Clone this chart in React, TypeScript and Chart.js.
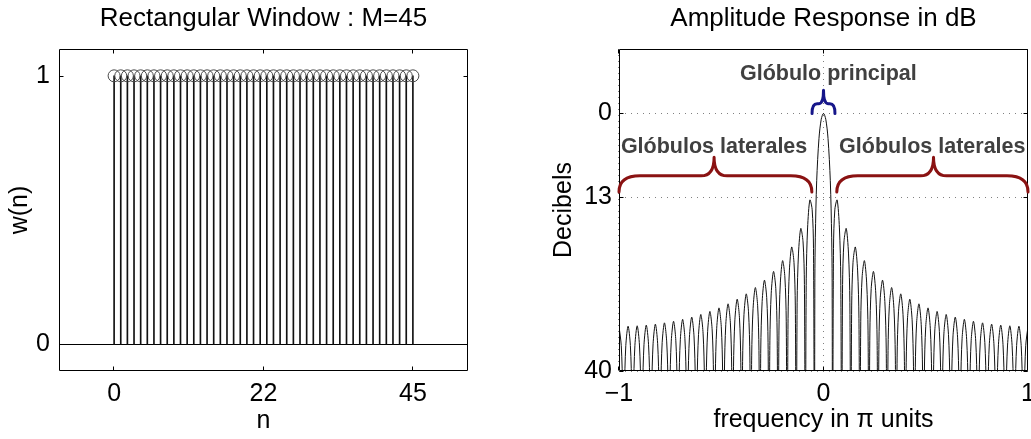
import React, { useEffect, useRef } from 'react';
import { Chart, registerables } from 'chart.js';

Chart.register(...registerables);

// ---------------- Left panel: rectangular window ----------------
const stemN = [
  0, 1, 2, 3, 4, 5, 6, 7, 8, 9, 10, 11, 12, 13, 14, 15, 16, 17, 18, 19, 20, 21, 22,
  23, 24, 25, 26, 27, 28, 29, 30, 31, 32, 33, 34, 35, 36, 37, 38, 39, 40, 41, 42, 43, 44, 45,
];
const stemW = [
  1, 1, 1, 1, 1, 1, 1, 1, 1, 1, 1, 1, 1, 1, 1, 1, 1, 1, 1, 1, 1, 1, 1,
  1, 1, 1, 1, 1, 1, 1, 1, 1, 1, 1, 1, 1, 1, 1, 1, 1, 1, 1, 1, 1, 1, 1,
];
const stemXTickValues = [0, 22.5, 45];
const stemXTickLabels = ['0', '22', '45'];
const stemYTickValues = [0, 1];
const stemYTickLabels = ['0', '1'];

// ---------------- Right panel: amplitude response (dB) ----------------
// frequency in pi units, negative half (ascending)
const freqNeg = [
  -1.0, -0.9889, -0.9822,
  -0.9778, -0.9733, -0.9667, -0.9556, -0.9444, -0.9378,
  -0.9333, -0.9289, -0.9222, -0.9111, -0.9, -0.8933,
  -0.8889, -0.8844, -0.8778, -0.8667, -0.8556, -0.8489,
  -0.8444, -0.84, -0.8333, -0.8222, -0.8111, -0.8044,
  -0.8, -0.7956, -0.7889, -0.7778, -0.7667, -0.76,
  -0.7556, -0.7511, -0.7444, -0.7333, -0.7222, -0.7156,
  -0.7111, -0.7067, -0.7, -0.6889, -0.6778, -0.6711,
  -0.6667, -0.6622, -0.6556, -0.6444, -0.6333, -0.6267,
  -0.6222, -0.6178, -0.6111, -0.6, -0.5889, -0.5822,
  -0.5778, -0.5733, -0.5667, -0.5556, -0.5444, -0.5378,
  -0.5333, -0.5289, -0.5222, -0.5111, -0.5, -0.4933,
  -0.4889, -0.4844, -0.4778, -0.4667, -0.4556, -0.4489,
  -0.4444, -0.44, -0.4333, -0.4222, -0.4111, -0.4044,
  -0.4, -0.3956, -0.3889, -0.3778, -0.3667, -0.36,
  -0.3556, -0.3511, -0.3444, -0.3333, -0.3222, -0.3156,
  -0.3111, -0.3067, -0.3, -0.2889, -0.2778, -0.2711,
  -0.2667, -0.2622, -0.2556, -0.2444, -0.2333, -0.2267,
  -0.2222, -0.2178, -0.2111, -0.2, -0.1889, -0.1822,
  -0.1778, -0.1733, -0.1667, -0.1556, -0.1444, -0.1378,
  -0.1333, -0.1289, -0.1222, -0.1111, -0.1, -0.0933,
  -0.0889, -0.0844, -0.0778, -0.0667, -0.0556, -0.0489,
  -0.0444, -0.0422, -0.04, -0.0333, -0.0222, -0.0111,
];
const dbNeg = [
  -33.06, -36.07, -43.26,
  -60, -43.26, -36.06, -33.04, -36.04, -43.22,
  -60, -43.21, -36.01, -32.98, -35.97, -43.14,
  -60, -43.12, -35.91, -32.87, -35.85, -43.01,
  -60, -42.98, -35.77, -32.72, -35.69, -42.85,
  -60, -42.81, -35.59, -32.52, -35.48, -42.63,
  -60, -42.58, -35.36, -32.28, -35.22, -42.37,
  -60, -42.31, -35.07, -31.98, -34.91, -42.05,
  -60, -41.98, -34.74, -31.63, -34.55, -41.68,
  -60, -41.59, -34.34, -31.22, -34.12, -41.24,
  -60, -41.15, -33.89, -30.75, -33.63, -40.74,
  -60, -40.63, -33.36, -30.2, -33.06, -40.16,
  -60, -40.03, -32.75, -29.57, -32.41, -39.5,
  -60, -39.35, -32.05, -28.85, -31.66, -38.73,
  -60, -38.56, -31.25, -28.02, -30.8, -37.84,
  -60, -37.65, -30.31, -27.04, -29.79, -36.81,
  -60, -36.58, -29.21, -25.9, -28.59, -35.58,
  -60, -35.31, -27.91, -24.54, -27.17, -34.11,
  -60, -33.78, -26.32, -22.86, -25.4, -32.27,
  -60, -31.86, -24.33, -20.74, -23.12, -29.9,
  -60, -29.33, -21.69, -17.86, -19.96, -26.56,
  -60, -25.69, -17.79, -13.45, -14.88, -20.96,
  -60, -25.6, -19.22, -10.45, -3.92, -0.91,
];
// positive half (ascending, starting at 0)
const freqPos = [
  0, 0.0111, 0.0222, 0.0333, 0.04, 0.0422, 0.0444,
  0.0489, 0.0556, 0.0667, 0.0778, 0.0844, 0.0889,
  0.0933, 0.1, 0.1111, 0.1222, 0.1289, 0.1333,
  0.1378, 0.1444, 0.1556, 0.1667, 0.1733, 0.1778,
  0.1822, 0.1889, 0.2, 0.2111, 0.2178, 0.2222,
  0.2267, 0.2333, 0.2444, 0.2556, 0.2622, 0.2667,
  0.2711, 0.2778, 0.2889, 0.3, 0.3067, 0.3111,
  0.3156, 0.3222, 0.3333, 0.3444, 0.3511, 0.3556,
  0.36, 0.3667, 0.3778, 0.3889, 0.3956, 0.4,
  0.4044, 0.4111, 0.4222, 0.4333, 0.44, 0.4444,
  0.4489, 0.4556, 0.4667, 0.4778, 0.4844, 0.4889,
  0.4933, 0.5, 0.5111, 0.5222, 0.5289, 0.5333,
  0.5378, 0.5444, 0.5556, 0.5667, 0.5733, 0.5778,
  0.5822, 0.5889, 0.6, 0.6111, 0.6178, 0.6222,
  0.6267, 0.6333, 0.6444, 0.6556, 0.6622, 0.6667,
  0.6711, 0.6778, 0.6889, 0.7, 0.7067, 0.7111,
  0.7156, 0.7222, 0.7333, 0.7444, 0.7511, 0.7556,
  0.76, 0.7667, 0.7778, 0.7889, 0.7956, 0.8,
  0.8044, 0.8111, 0.8222, 0.8333, 0.84, 0.8444,
  0.8489, 0.8556, 0.8667, 0.8778, 0.8844, 0.8889,
  0.8933, 0.9, 0.9111, 0.9222, 0.9289, 0.9333,
  0.9378, 0.9444, 0.9556, 0.9667, 0.9733, 0.9778,
  0.9822, 0.9889, 1.0,
];
const dbPos = [
  0, -0.91, -3.92, -10.45, -19.22, -25.6, -60,
  -20.96, -14.88, -13.45, -17.79, -25.69, -60,
  -26.56, -19.96, -17.86, -21.69, -29.33, -60,
  -29.9, -23.12, -20.74, -24.33, -31.86, -60,
  -32.27, -25.4, -22.86, -26.32, -33.78, -60,
  -34.11, -27.17, -24.54, -27.91, -35.31, -60,
  -35.58, -28.59, -25.9, -29.21, -36.58, -60,
  -36.81, -29.79, -27.04, -30.31, -37.65, -60,
  -37.84, -30.8, -28.02, -31.25, -38.56, -60,
  -38.73, -31.66, -28.85, -32.05, -39.35, -60,
  -39.5, -32.41, -29.57, -32.75, -40.03, -60,
  -40.16, -33.06, -30.2, -33.36, -40.63, -60,
  -40.74, -33.63, -30.75, -33.89, -41.15, -60,
  -41.24, -34.12, -31.22, -34.34, -41.59, -60,
  -41.68, -34.55, -31.63, -34.74, -41.98, -60,
  -42.05, -34.91, -31.98, -35.07, -42.31, -60,
  -42.37, -35.22, -32.28, -35.36, -42.58, -60,
  -42.63, -35.48, -32.52, -35.59, -42.81, -60,
  -42.85, -35.69, -32.72, -35.77, -42.98, -60,
  -43.01, -35.85, -32.87, -35.91, -43.12, -60,
  -43.14, -35.97, -32.98, -36.01, -43.21, -60,
  -43.22, -36.04, -33.04, -36.06, -43.26, -60,
  -43.26, -36.07, -33.06,
];
const freqTickValues = [-1, 0, 1];
const freqTickLabels = ['\u22121', '0', '1'];
const dbTickValues = [-40, -13, 0];
const dbTickLabels = ['40', '13', '0'];

const mainLobeLabel = 'Glóbulo principal';
const sideLobeLabel = 'Glóbulos laterales';

const FONT = "'Liberation Sans', Arial, Helvetica, sans-serif";

function matlabBox(opts: { grid?: boolean; baseline?: boolean }) {
  return {
    id: 'matlabBox',
    beforeDatasetsDraw(chart: any) {
      const { ctx, chartArea: a, scales } = chart;
      const x = scales.x;
      const y = scales.y;
      if (opts.grid) {
        ctx.save();
        ctx.strokeStyle = '#808080';
        ctx.lineWidth = 1;
        ctx.setLineDash([1, 5]);
        x.ticks.forEach((t: any) => {
          const px = Math.round(x.getPixelForValue(t.value)) - 0.5;
          ctx.beginPath();
          ctx.moveTo(px, a.top);
          ctx.lineTo(px, a.bottom);
          ctx.stroke();
        });
        y.ticks.forEach((t: any) => {
          const py = Math.round(y.getPixelForValue(t.value)) + 0.5;
          ctx.beginPath();
          ctx.moveTo(a.left, py);
          ctx.lineTo(a.right, py);
          ctx.stroke();
        });
        ctx.restore();
      }
      if (opts.baseline) {
        ctx.save();
        ctx.strokeStyle = '#000';
        ctx.lineWidth = 1;
        const py = Math.round(y.getPixelForValue(0)) + 0.5;
        ctx.beginPath();
        ctx.moveTo(a.left, py);
        ctx.lineTo(a.right, py);
        ctx.stroke();
        ctx.restore();
      }
    },
    afterDatasetsDraw(chart: any) {
      const { ctx, chartArea: a, scales } = chart;
      const x = scales.x;
      const y = scales.y;
      const L = Math.round(a.left) + 0.5;
      const R = Math.round(a.right) - 0.5;
      const T = Math.round(a.top) + 0.5;
      const B = Math.round(a.bottom) - 0.5;
      ctx.save();
      ctx.strokeStyle = '#000';
      ctx.lineWidth = 1;
      ctx.setLineDash([]);
      ctx.beginPath();
      ctx.rect(L, T, R - L, B - T);
      ctx.stroke();
      const tl = 4;
      ctx.beginPath();
      x.ticks.forEach((t: any) => {
        const px = Math.round(x.getPixelForValue(t.value)) - 0.5;
        ctx.moveTo(px, B);
        ctx.lineTo(px, B - tl);
        ctx.moveTo(px, T);
        ctx.lineTo(px, T + tl);
      });
      y.ticks.forEach((t: any) => {
        const py = Math.round(y.getPixelForValue(t.value)) + 0.5;
        ctx.moveTo(L, py);
        ctx.lineTo(L + tl, py);
        ctx.moveTo(R, py);
        ctx.lineTo(R - tl, py);
      });
      ctx.stroke();
      ctx.restore();
    },
  };
}

function drawBrace(
  ctx: CanvasRenderingContext2D,
  x1: number, x2: number, xm: number,
  yb: number, yh: number, yt: number,
  ew: number, tw: number
) {
  ctx.beginPath();
  ctx.moveTo(x1, yb);
  ctx.quadraticCurveTo(x1, yh, x1 + ew, yh);
  ctx.lineTo(xm - tw, yh);
  ctx.quadraticCurveTo(xm, yh, xm, yt);
  ctx.quadraticCurveTo(xm, yh, xm + tw, yh);
  ctx.lineTo(x2 - ew, yh);
  ctx.quadraticCurveTo(x2, yh, x2, yb);
  ctx.stroke();
}

const lobeAnnotations = {
  id: 'lobeAnnotations',
  afterDatasetsDraw(chart: any) {
    const { ctx, scales } = chart;
    const x = scales.x;
    const y = scales.y;
    ctx.save();
    ctx.lineCap = 'round';
    ctx.lineJoin = 'round';
    ctx.setLineDash([]);
    // main lobe brace (blue)
    ctx.strokeStyle = '#16168a';
    ctx.lineWidth = 3;
    drawBrace(
      ctx,
      x.getPixelForValue(-0.056), x.getPixelForValue(0.056), x.getPixelForValue(0),
      y.getPixelForValue(0), y.getPixelForValue(1.5), y.getPixelForValue(3.6),
      5, 5
    );
    // side lobe braces (dark red)
    ctx.strokeStyle = '#8a1212';
    ctx.lineWidth = 3;
    drawBrace(
      ctx,
      x.getPixelForValue(-1), x.getPixelForValue(-0.057), x.getPixelForValue(-0.535),
      y.getPixelForValue(-12.2), y.getPixelForValue(-9.7), y.getPixelForValue(-6.8),
      21, 13
    );
    drawBrace(
      ctx,
      x.getPixelForValue(0.065), x.getPixelForValue(1), x.getPixelForValue(0.538),
      y.getPixelForValue(-12.2), y.getPixelForValue(-9.7), y.getPixelForValue(-6.8),
      21, 13
    );
    // labels
    ctx.font = `bold 21.5px ${FONT}`;
    ctx.fillStyle = '#404040';
    ctx.textAlign = 'center';
    ctx.textBaseline = 'alphabetic';
    ctx.fillText(mainLobeLabel, x.getPixelForValue(0.024), y.getPixelForValue(5.2));
    ctx.fillText(sideLobeLabel, x.getPixelForValue(-0.535), y.getPixelForValue(-6.2));
    ctx.fillText(sideLobeLabel, x.getPixelForValue(0.532), y.getPixelForValue(-6.2));
    ctx.restore();
  },
};

const tickFont = { family: FONT, size: 25 };
const titleFont = { family: FONT, size: 26, weight: 'normal' };

export default function App() {
  const leftRef = useRef<HTMLCanvasElement>(null);
  const rightRef = useRef<HTMLCanvasElement>(null);

  useEffect(() => {
    const left = new Chart(leftRef.current as HTMLCanvasElement, {
      type: 'bar',
      data: {
        datasets: [
          {
            type: 'bar',
            data: stemN.map((n, i) => ({ x: n, y: stemW[i] })),
            backgroundColor: '#111',
            borderWidth: 0,
            barThickness: 1,
            order: 2,
          } as any,
          {
            type: 'line',
            data: stemN.map((n, i) => ({ x: n, y: stemW[i] })),
            showLine: false,
            pointStyle: 'circle',
            pointRadius: 6,
            pointBorderWidth: 1,
            pointBorderColor: '#4a4a4a',
            pointBackgroundColor: 'rgba(0,0,0,0)',
            order: 1,
          } as any,
        ],
      },
      options: {
        animation: false,
        responsive: false,
        maintainAspectRatio: false,
        devicePixelRatio: 1,
        events: [],
        layout: { padding: { left: 0, right: 72, top: 0, bottom: 0 } },
        plugins: {
          legend: { display: false },
          tooltip: { enabled: false },
          title: {
            display: true,
            text: 'Rectangular Window : M=45',
            fullSize: false,
            color: '#000',
            font: titleFont,
            padding: { top: 3, bottom: 14.8 },
          },
        },
        scales: {
          x: {
            type: 'linear',
            min: -8.3,
            max: 53.3,
            offset: false,
            grid: { display: false, drawTicks: false },
            border: { display: false },
            afterBuildTicks: (s: any) => {
              s.ticks = stemXTickValues.map((v) => ({ value: v }));
            },
            afterFit: (s: any) => {
              s.height = 68;
              s.paddingLeft = 0;
              s.paddingRight = 0;
            },
            ticks: {
              autoSkip: false,
              maxRotation: 0,
              minRotation: 0,
              padding: 8,
              color: '#000',
              font: tickFont,
              callback: (_v: any, i: number) => stemXTickLabels[i],
            },
            title: {
              display: true,
              text: 'n',
              color: '#000',
              font: tickFont,
              padding: { top: 0, bottom: 3 },
            },
          },
          y: {
            type: 'linear',
            min: -0.1,
            max: 1.1,
            grid: { display: false, drawTicks: false },
            border: { display: false },
            afterBuildTicks: (s: any) => {
              s.ticks = stemYTickValues.map((v) => ({ value: v }));
            },
            afterFit: (s: any) => {
              s.width = 59;
              s.paddingTop = 0;
              s.paddingBottom = 0;
            },
            ticks: {
              autoSkip: false,
              padding: 9,
              color: '#000',
              font: tickFont,
              callback: (_v: any, i: number) => stemYTickLabels[i],
            },
            title: {
              display: true,
              text: 'w(n)',
              color: '#000',
              font: tickFont,
              padding: { top: 5, bottom: 0 },
            },
          },
        },
      } as any,
      plugins: [matlabBox({ baseline: true })],
    });

    const freqAll = [...freqNeg, ...freqPos];
    const dbAll = [...dbNeg, ...dbPos];

    const right = new Chart(rightRef.current as HTMLCanvasElement, {
      type: 'line',
      data: {
        datasets: [
          {
            data: freqAll.map((f, i) => ({ x: f, y: dbAll[i] })),
            borderColor: '#111',
            borderWidth: 1,
            pointRadius: 0,
            tension: 0.3,
            fill: false,
          },
        ],
      },
      options: {
        animation: false,
        responsive: false,
        maintainAspectRatio: false,
        devicePixelRatio: 1,
        events: [],
        layout: { padding: { left: 0, right: 3, top: 0, bottom: 0 } },
        plugins: {
          legend: { display: false },
          tooltip: { enabled: false },
          title: {
            display: true,
            text: 'Amplitude Response in dB',
            fullSize: false,
            color: '#000',
            font: titleFont,
            padding: { top: 3, bottom: 14.8 },
          },
        },
        scales: {
          x: {
            type: 'linear',
            min: -1,
            max: 1,
            offset: false,
            grid: { display: false, drawTicks: false },
            border: { display: false },
            afterBuildTicks: (s: any) => {
              s.ticks = freqTickValues.map((v) => ({ value: v }));
            },
            afterFit: (s: any) => {
              s.height = 68;
              s.paddingLeft = 0;
              s.paddingRight = 0;
            },
            ticks: {
              autoSkip: false,
              maxRotation: 0,
              minRotation: 0,
              padding: 8,
              color: '#000',
              font: tickFont,
              callback: (_v: any, i: number) => freqTickLabels[i],
            },
            title: {
              display: true,
              text: 'frequency in \u03c0 units',
              color: '#000',
              font: tickFont,
              padding: { top: 0, bottom: 4 },
            },
          },
          y: {
            type: 'linear',
            min: -40,
            max: 10,
            grid: { display: false, drawTicks: false },
            border: { display: false },
            afterBuildTicks: (s: any) => {
              s.ticks = dbTickValues.map((v) => ({ value: v }));
            },
            afterFit: (s: any) => {
              s.width = 79;
              s.paddingTop = 0;
              s.paddingBottom = 0;
            },
            ticks: {
              autoSkip: false,
              padding: 7,
              color: '#000',
              font: tickFont,
              callback: (_v: any, i: number) => dbTickLabels[i],
            },
            title: {
              display: true,
              text: 'Decibels',
              color: '#000',
              font: tickFont,
              padding: { top: 9, bottom: 0 },
            },
          },
        },
      } as any,
      plugins: [matlabBox({ grid: true }), lobeAnnotations],
    });

    return () => {
      left.destroy();
      right.destroy();
    };
  }, []);

  return (
    <div
      style={{
        position: 'fixed',
        left: 0,
        top: 0,
        width: 1031,
        height: 439,
        background: '#fff',
        overflow: 'hidden',
      }}
    >
      <canvas
        ref={leftRef}
        width={540}
        height={439}
        style={{ position: 'absolute', left: 0, top: 0, width: 540, height: 439 }}
      />
      <canvas
        ref={rightRef}
        width={491}
        height={439}
        style={{ position: 'absolute', left: 540, top: 0, width: 491, height: 439 }}
      />
    </div>
  );
}
